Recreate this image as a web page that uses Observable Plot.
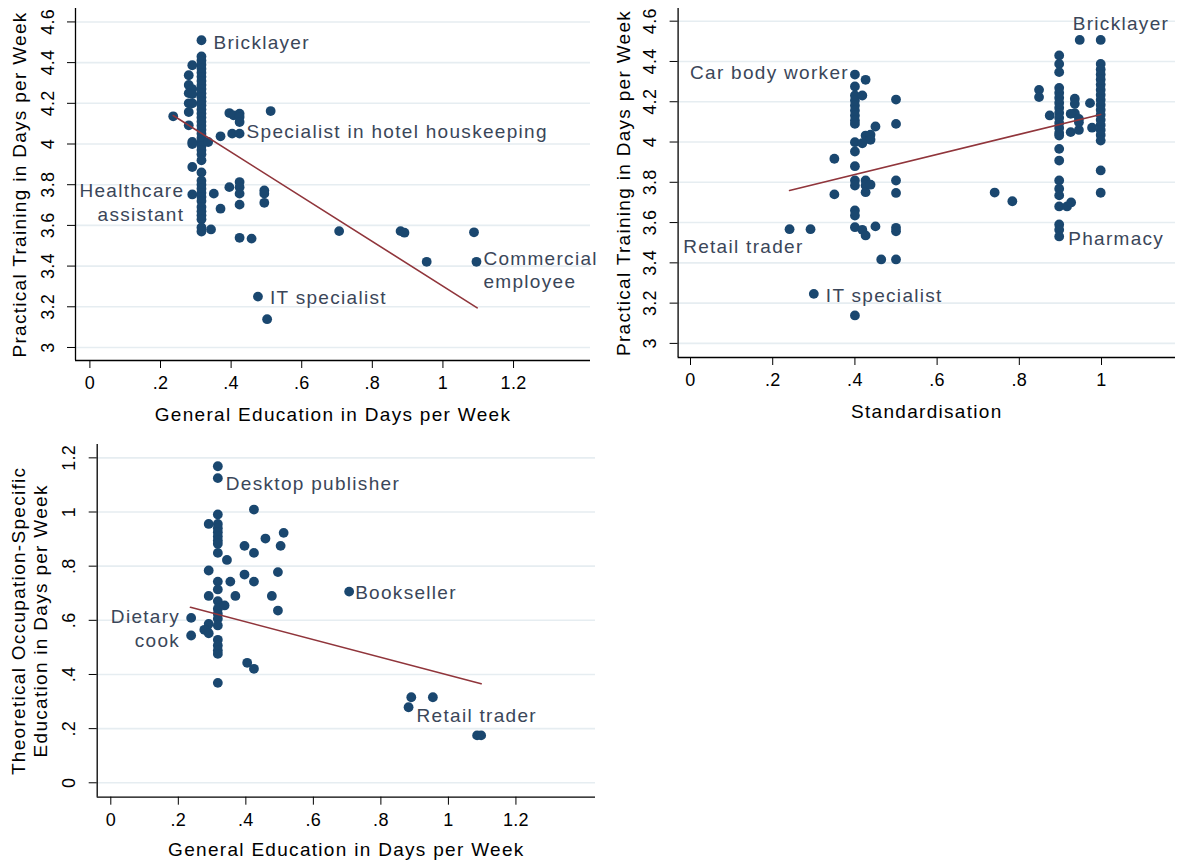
<!DOCTYPE html>
<html><head><meta charset="utf-8">
<script src="https://cdn.jsdelivr.net/npm/d3@7"></script>
<script src="https://cdn.jsdelivr.net/npm/@observablehq/plot@0.6"></script>
<style>
body{margin:0;background:#fff;}
#fig{position:relative;width:1182px;height:865px;overflow:hidden;background:#fff;font-family:"Liberation Sans",Arial,sans-serif;}
#fig svg{position:absolute;overflow:visible;background:transparent;}
#fig svg g[aria-label="text"] text{letter-spacing:1.3px;}
#fig svg g[aria-label="x-axis tick label"] text,#fig svg g[aria-label="y-axis tick label"] text{letter-spacing:0.3px;}
</style></head><body><div id="fig"></div>
<script>
// ---------- data ----------
const xTicksGen = [0, 0.2, 0.4, 0.6, 0.8, 1, 1.2];
const xTicksStd = [0, 0.2, 0.4, 0.6, 0.8, 1];
const yTicksPractical = [3, 3.2, 3.4, 3.6, 3.8, 4, 4.2, 4.4, 4.6];
const yTicksTheory = [0, 0.2, 0.4, 0.6, 0.8, 1, 1.2];

// Panel 1: general education (x) vs practical training (y)
const panel1Column = [4.51, 4.43, 4.41, 4.39, 4.37, 4.35, 4.33, 4.31, 4.29, 4.27, 4.25, 4.23, 4.21, 4.19, 4.17, 4.15, 4.13, 4.11, 4.09, 4.07, 4.05, 4.03, 4.01, 3.99, 3.97, 3.95, 3.92, 3.86, 3.82, 3.80, 3.78, 3.76, 3.74, 3.72, 3.69, 3.67, 3.65, 3.63, 3.59, 3.57];
const panel1ColumnX = 0.316;
const panel1Others = [
  [0.290, 4.387], [0.280, 4.338], [0.280, 4.29], [0.290, 4.27], [0.280, 4.25], [0.290, 4.245], [0.280, 4.20], [0.290, 4.20],
  [0.280, 4.157], [0.280, 4.092], [0.290, 4.01], [0.290, 4.0], [0.290, 3.887], [0.290, 3.752],
  [0.236, 4.136], [0.335, 4.01], [0.37, 4.038], [0.395, 4.152], [0.407, 4.141], [0.424, 4.149], [0.424, 4.133], [0.424, 4.108],
  [0.512, 4.162], [0.403, 4.051], [0.424, 4.051], [0.351, 3.756], [0.395, 3.788], [0.424, 3.813], [0.424, 3.788], [0.424, 3.756],
  [0.494, 3.772], [0.494, 3.756], [0.494, 3.711], [0.37, 3.682], [0.424, 3.702], [0.343, 3.58], [0.424, 3.539], [0.458, 3.535],
  [0.706, 3.572], [0.88, 3.572], [0.891, 3.564], [1.088, 3.566], [0.954, 3.421], [1.095, 3.421], [0.476, 3.25], [0.502, 3.139]
];
const panel1Fit = [[0.236, 4.14], [1.097, 3.195]];
const panel1Labels = [
  {name: "Bricklayer", x: 0.316, y: 4.51},
  {name: "Specialist in hotel houskeeping", x: 0.424, y: 4.051},
  {name: "Healthcare\nassistant", x: 0.290, y: 3.752},
  {name: "IT specialist", x: 0.476, y: 3.25},
  {name: "Commercial\nemployee", x: 1.095, y: 3.421}
];

// Panel 2: standardisation (x) vs practical training (y)
const panel2Col40 = [4.335, 4.276, 4.231, 4.206, 4.181, 4.157, 4.132, 4.107, 4.09, 3.999, 3.953, 3.88, 3.809, 3.784, 3.66, 3.635, 3.577, 3.139];
const panel2Col90 = [4.43, 4.388, 4.347, 4.269, 4.245, 4.22, 4.195, 4.17, 4.145, 4.12, 4.095, 4.07, 4.045, 4.032, 3.966, 3.908, 3.809, 3.768, 3.735, 3.68, 3.591, 3.564, 3.531];
const panel2Col100 = [4.507, 4.388, 4.36, 4.335, 4.31, 4.285, 4.26, 4.235, 4.21, 4.185, 4.16, 4.135, 4.11, 4.085, 4.06, 4.035, 4.007, 3.859, 3.748];
const panel2ColumnsX = [0.40, 0.897, 0.998];
const panel2Others = [
  [0.426, 4.309], [0.418, 4.231], [0.5, 4.211], [0.5, 4.09], [0.45, 4.077], [0.426, 4.032], [0.438, 4.036], [0.438, 4.011],
  [0.418, 3.994], [0.35, 3.917], [0.426, 3.809], [0.426, 3.784], [0.426, 3.751], [0.438, 3.788], [0.5, 3.809], [0.5, 3.747],
  [0.35, 3.74], [0.241, 3.567], [0.292, 3.567], [0.418, 3.564], [0.426, 3.536], [0.45, 3.581], [0.5, 3.574], [0.5, 3.557],
  [0.464, 3.417], [0.5, 3.417], [0.3, 3.246],
  [0.947, 4.507], [0.977, 4.071], [0.972, 4.193], [0.848, 4.259], [0.848, 4.223], [0.874, 4.132], [0.916, 3.68], [0.926, 3.7],
  [0.935, 4.215], [0.935, 4.19], [0.935, 4.143], [0.925, 4.14], [0.945, 4.115], [0.925, 4.049], [0.945, 4.06], [0.945, 4.098],
  [0.74, 3.749], [0.783, 3.706]
];
const panel2Fit = [[0.241, 3.759], [0.998, 4.137]];
const panel2Labels = [
  {name: "Bricklayer", x: 0.947, y: 4.507},
  {name: "Car body worker", x: 0.40, y: 4.335},
  {name: "Retail trader", x: 0.292, y: 3.567},
  {name: "IT specialist", x: 0.3, y: 3.246},
  {name: "Pharmacy", x: 0.897, y: 3.531}
];

// Panel 3: general education (x) vs theoretical occupation-specific education (y)
const panel3Column = [1.169, 1.125, 0.991, 0.956, 0.94, 0.925, 0.91, 0.895, 0.883, 0.849, 0.743, 0.714, 0.671, 0.643, 0.624, 0.606, 0.581, 0.528, 0.507, 0.489, 0.476, 0.369];
const panel3ColumnX = 0.317;
const panel3Others = [
  [0.424, 1.009], [0.29, 0.956], [0.344, 0.823], [0.396, 0.875], [0.424, 0.849], [0.458, 0.902], [0.512, 0.923], [0.503, 0.875],
  [0.29, 0.784], [0.354, 0.743], [0.396, 0.769], [0.424, 0.743], [0.495, 0.778], [0.29, 0.69], [0.369, 0.69], [0.477, 0.69],
  [0.337, 0.655], [0.495, 0.636], [0.238, 0.609], [0.238, 0.544], [0.29, 0.587], [0.285, 0.562], [0.277, 0.565], [0.29, 0.552],
  [0.404, 0.443], [0.424, 0.421], [0.706, 0.706], [0.89, 0.316], [0.954, 0.316], [0.882, 0.279], [1.085, 0.175], [1.097, 0.175]
];
const panel3Fit = [[0.236, 0.648], [1.097, 0.366]];
const panel3Labels = [
  {name: "Desktop publisher", x: 0.317, y: 1.125},
  {name: "Bookseller", x: 0.706, y: 0.706},
  {name: "Retail trader", x: 0.882, y: 0.279},
  {name: "Dietary\ncook", x: 0.238, y: 0.609}
];

const titleGen = "General Education in Days per Week";
const titleStd = "Standardisation";
const titlePractical = "Practical Training in Days per Week";
const titleTheory = "Theoretical Occupation-Specific\nEducation in Days per Week";

// ---------- styling ----------
const dotColor = "#1a476f", lineColor = "#90353b", gridColor = "#e6edf1", labelColor = "#3a4659";
const fmt = d => d === 0 ? "0" : d3.format("~g")(d).replace(/^0\./, ".");

function buildPoints(colX, colY, others) {
  return colY.map(y => [colX, y]).concat(others);
}

function panel(cfg) {
  const {points, fit, labels, layout, xTicks, yTicks, xDomain, yDomain, margins, width, height, xTitle, yTitle, yTitleDx, xTitleDy} = cfg;
  const labelMarks = labels.map((l, i) => Plot.text([l], {
    x: "x", y: "y", text: "name", textAnchor: layout[i].anchor, dx: layout[i].dx, dy: layout[i].dy,
    fill: labelColor, fontSize: 19, lineHeight: 1.26
  }));
  const svg = Plot.plot({
    width, height,
    marginTop: margins[0], marginRight: margins[1], marginBottom: margins[2], marginLeft: margins[3],
    style: {fontFamily: "'Liberation Sans', Arial, sans-serif", background: "transparent", overflow: "visible"},
    x: {domain: xDomain},
    y: {domain: yDomain},
    marks: [
      Plot.gridY(yTicks, {stroke: gridColor, strokeOpacity: 1, strokeWidth: 1.6}),
      Plot.ruleX([xDomain[0]], {stroke: "#000", strokeWidth: 1.3}),
      Plot.ruleY([yDomain[0]], {stroke: "#000", strokeWidth: 1.3}),
      Plot.axisX({ticks: xTicks, tickFormat: fmt, tickSize: 8, tickPadding: 8, fontSize: 18, label: null, stroke: "#000", fill: "#000"}),
      Plot.axisY({ticks: yTicks, tickFormat: fmt, tickSize: 8, tickPadding: 14, tickRotate: -90, fontSize: 18, label: null, stroke: "#000", fill: "#000"}),
      Plot.dot(points, {x: d => d[0], y: d => d[1], r: 4.9, fill: dotColor, stroke: null}),
      Plot.line(fit, {x: d => d[0], y: d => d[1], stroke: lineColor, strokeWidth: 1.6}),
      ...labelMarks,
      Plot.text([xTitle], {frameAnchor: "bottom", textAnchor: "middle", lineAnchor: "middle", dy: xTitleDy, text: d => d, fontSize: 19, fill: "#000"}),
      Plot.text([yTitle], {frameAnchor: "left", textAnchor: "middle", lineAnchor: "middle", rotate: -90, dx: yTitleDx, text: d => d, fontSize: 19, fill: "#000", lineHeight: 1.15})
    ]
  });
  return svg;
}

const fig = document.getElementById("fig");

function place(svg, left, top) {
  svg.style.left = left + "px";
  svg.style.top = top + "px";
  fig.appendChild(svg);
}

place(panel({
  points: buildPoints(panel1ColumnX, panel1Column, panel1Others),
  fit: panel1Fit, labels: panel1Labels,
  layout: [
    {anchor: "start", dx: 12, dy: 1},
    {anchor: "start", dx: 7, dy: -3},
    {anchor: "end", dx: -8, dy: 7},
    {anchor: "start", dx: 12, dy: 0},
    {anchor: "start", dx: 7, dy: 7}
  ],
  xTicks: xTicksGen, yTicks: yTicksPractical,
  xDomain: [-0.0408, 1.418], yDomain: [2.936, 4.666],
  width: 600, height: 432, margins: [8, 10, 72, 75],
  xTitle: titleGen, yTitle: titlePractical, yTitleDx: -57, xTitleDy: 54
}), 0, 0);

place(panel({
  points: [...buildPoints(panel2ColumnsX[0], panel2Col40, []), ...buildPoints(panel2ColumnsX[1], panel2Col90, []), ...buildPoints(panel2ColumnsX[2], panel2Col100, panel2Others)],
  fit: panel2Fit, labels: panel2Labels,
  layout: [
    {anchor: "start", dx: -7, dy: -18},
    {anchor: "end", dx: -6, dy: -3},
    {anchor: "end", dx: -7, dy: 16},
    {anchor: "start", dx: 12, dy: 0},
    {anchor: "start", dx: 9, dy: 1}
  ],
  xTicks: xTicksStd, yTicks: yTicksPractical,
  xDomain: [-0.0302, 1.18], yDomain: [2.930, 4.663],
  width: 582, height: 432, margins: [8, 7, 75, 77.6],
  xTitle: titleStd, yTitle: titlePractical, yTitleDx: -55, xTitleDy: 54
}), 600, 0);

place(panel({
  points: buildPoints(panel3ColumnX, panel3Column, panel3Others),
  fit: panel3Fit, labels: panel3Labels,
  layout: [
    {anchor: "start", dx: 8, dy: 4},
    {anchor: "start", dx: 6, dy: 0},
    {anchor: "start", dx: 8, dy: 7},
    {anchor: "end", dx: -11, dy: 9}
  ],
  xTicks: xTicksGen, yTicks: yTicksTheory,
  xDomain: [-0.0403, 1.4357], yDomain: [-0.0532, 1.2493],
  width: 600, height: 433, margins: [12, 5, 68.3, 96.7],
  xTitle: titleGen, yTitle: titleTheory, yTitleDx: -68, xTitleDy: 53
}), 0, 432);
</script></body></html>
